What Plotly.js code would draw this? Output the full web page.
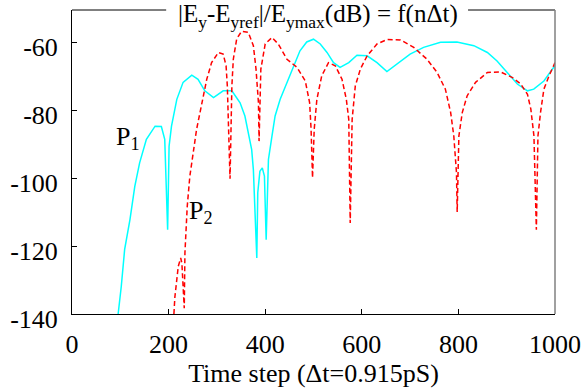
<!DOCTYPE html>
<html>
<head>
<meta charset="utf-8">
<script src="https://cdn.plot.ly/plotly-3.0.1.min.js"></script>
<style>html,body{margin:0;padding:0;background:#fff;}#chart{width:587px;height:389px;}</style>
</head>
<body>
<div id="chart"></div>
<script>
// P1 (cyan, solid)
var p1X = [95.5, 102, 109, 120, 130, 140, 154, 172, 185, 192, 198, 201, 206, 217, 230, 248, 261, 275, 293, 313, 331, 348, 358, 365, 372, 375.5, 379, 382.6, 384.6, 389, 394, 398.4, 402, 406.7, 414, 420.5, 431, 445, 458.5, 472, 486, 500, 514, 528, 541.5, 555, 573, 590, 611, 631.5, 652, 673, 700, 728, 763, 797, 832, 860, 880, 901, 922, 943, 956, 977, 998, 1000];
var p1Y = [-140, -131.9, -121, -112.2, -102.4, -95.5, -88.6, -84.7, -84.8, -88.6, -115.2, -90.6, -84.7, -76.8, -71.8, -69.7, -70.9, -74.3, -76.3, -74.3, -74.3, -77.8, -81.7, -86.6, -91.6, -97.5, -112.2, -123.5, -104.3, -98, -97, -99.4, -118.1, -94.5, -87.6, -81.7, -76.8, -71.8, -66.9, -62.5, -59.9, -59.1, -60.5, -63, -66, -67.4, -66, -63.8, -64, -66, -68.6, -66.4, -63.5, -61.5, -60, -59.9, -61, -63, -65.5, -68.9, -72.3, -74.3, -73.8, -71.4, -67.4, -66.8];
// P2 (red, dashed)
var p2X = [211, 213, 220, 225, 227.5, 232.4, 233.8, 238.6, 244, 251, 258, 265, 272, 279, 289, 303, 313, 319, 321.6, 327.2, 331, 334, 341, 351, 365, 375.5, 381, 386, 387.3, 391, 400, 414, 427, 445, 466, 483, 492, 495, 498, 501.5, 507, 517, 531, 545, 559, 568, 573, 576, 580, 586.5, 597, 611, 631.5, 652, 680, 707.5, 735, 756, 773, 784, 790.5, 796, 797.5, 801, 808, 818, 835.5, 860, 887, 912, 929, 943, 950, 956.4, 961.4, 964.7, 970, 977, 987.6, 998, 1000];
var p2Y = [-140, -135, -126, -123.5, -125, -138.3, -122, -108.3, -99.4, -92.5, -85.6, -80.7, -75.8, -70.9, -66, -63, -63.5, -66.9, -72.9, -100.2, -72.9, -65, -59, -56.8, -57.1, -61, -67.9, -77.8, -89.1, -67.9, -60.5, -58.6, -60.5, -65, -67.4, -71.4, -77.8, -85.6, -99.9, -85.6, -76.8, -69.9, -66, -66.9, -70.9, -76.8, -82.7, -113.2, -82.7, -72.9, -67.9, -64, -60.5, -59.2, -59.3, -61.5, -65, -68.9, -73.8, -80.7, -87.6, -98.4, -110, -87.6, -80.7, -75.8, -71.8, -68.9, -68.7, -70.4, -72.3, -75.3, -79.7, -87.6, -115.2, -87.6, -80.7, -73.8, -69.9, -66.4, -66];

var xTicks = [0, 200, 400, 600, 800, 1000];
var yTicks = [-140, -120, -100, -80, -60];
var titleText = '|E<sub>y</sub>-E<sub>yref</sub>|/E<sub>ymax</sub>(dB) = f(nΔt)';
var xTitle = 'Time step (Δt=0.915pS)';
var labelP1 = 'P<sub>1</sub>';
var labelP2 = 'P<sub>2</sub>';

var FONT = 'Liberation Serif, serif';

var traces = [
  {x: p1X, y: p1Y, type: 'scatter', mode: 'lines', name: 'P1',
   line: {color: '#00ffff', width: 1.5}, cliponaxis: true},
  {x: p2X, y: p2Y, type: 'scatter', mode: 'lines', name: 'P2',
   line: {color: '#ff0000', width: 1.5, dash: '5px,3px'}, cliponaxis: true}
];

var layout = {
  width: 587, height: 389,
  margin: {l: 72, r: 32, t: 10, b: 75, pad: 0},
  paper_bgcolor: '#ffffff', plot_bgcolor: '#ffffff',
  showlegend: false,
  font: {family: FONT, size: 26, color: '#000'},
  title: {text: titleText, font: {family: FONT, size: 25, color: '#000'},
          x: 0.509, xref: 'paper', xanchor: 'center', y: 0.965, yref: 'container', yanchor: 'middle'},
  xaxis: {range: [0, 1000], tickvals: xTicks, ticktext: xTicks.map(String),
          ticks: 'inside', ticklen: 5, tickcolor: '#000', showgrid: false, zeroline: false,
          showline: true, linecolor: '#000', linewidth: 1, mirror: false,
          ticklabelstandoff: 7,
          tickfont: {family: FONT, size: 26, color: '#000'},
          title: {text: xTitle, font: {family: FONT, size: 26, color: '#000'}, standoff: 0}},
  yaxis: {range: [-140, -50.5], tickvals: yTicks, ticktext: yTicks.map(String),
          ticks: 'inside', ticklen: 5, tickcolor: '#000', showgrid: false, zeroline: false,
          showline: true, linecolor: '#000', linewidth: 1, mirror: false,
          ticklabelstandoff: 8, ticklabelshift: 5,
          tickfont: {family: FONT, size: 26, color: '#000'}},
  shapes: [
    {type: 'line', xref: 'paper', yref: 'paper', x0: 0, x1: 0.195, y0: 1, y1: 1, line: {color: '#000', width: 1}},
    {type: 'line', xref: 'paper', yref: 'paper', x0: 0.82, x1: 1, y0: 1, y1: 1, line: {color: '#000', width: 1}},
    {type: 'line', xref: 'paper', yref: 'paper', x0: 1, x1: 1, y0: 0, y1: 1, line: {color: '#808080', width: 1.5}}
  ],
  annotations: [
    {text: labelP1, x: 115.6, y: -88.2, xref: 'x', yref: 'y', showarrow: false,
     xanchor: 'center', yanchor: 'middle', font: {family: FONT, size: 26, color: '#000'}},
    {text: labelP2, x: 267, y: -110, xref: 'x', yref: 'y', showarrow: false,
     xanchor: 'center', yanchor: 'middle', font: {family: FONT, size: 26, color: '#000'}}
  ]
};

Plotly.newPlot('chart', traces, layout, {staticPlot: true, displayModeBar: false});
</script>
</body>
</html>
